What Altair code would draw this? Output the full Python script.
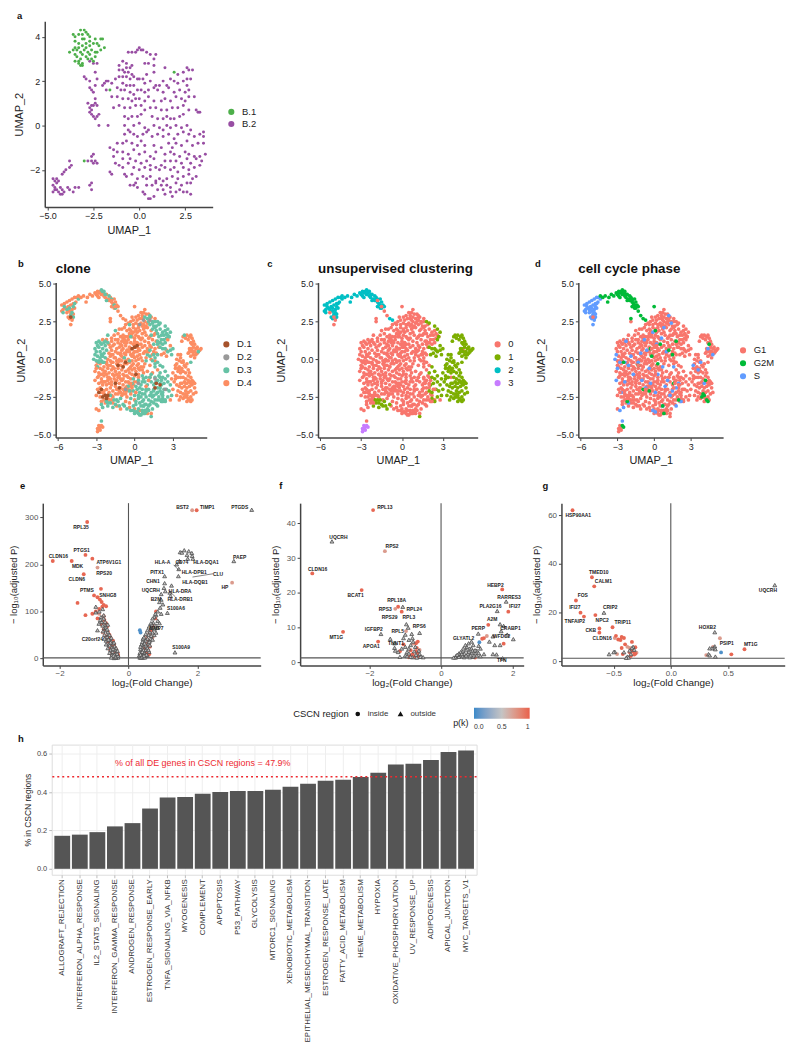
import altair as alt
import pandas as pd

# ---------- panel a (tenths of a UMAP unit, flat x,y pairs)
a_b1 = [-36,41,-35,40,-33,41,-32,43,-30,43,-29,42,-31,41,-30,39,-28,41,-27,40,-35,38,-33,37,-31,39,-29,37,-27,38,-25,37,-24,39,-21,39,-20,39,-35,35,-33,35,-31,36,-29,35,-27,36,-23,37,-22,36,-19,35,-21,34,-36,34,-34,34,-32,33,-30,34,-28,33,-26,34,-24,33,-38,33,-35,32,-31,32,-27,32,-23,33,-34,31,-32,30,-29,31,-26,30,-24,31,-35,29,-33,29,-31,28,-28,30,-25,29,-33,28,-32,27,-31,27,-16,16,19,24,-30,-16]
a_b2 = [-27,29,-25,28,-23,28,-30,22,-29,21,-27,20,-24,24,-23,21,-24,18,-27,17,-26,16,-25,15,-24,12,-28,10,-26,9,-27,8,-26,7,-25,9,-24,10,-23,9,-27,6,-26,5,-25,4,-24,3,-23,4,-22,5,-22,0,-18,16,-20,18,-19,19,-18,20,
-6,33,-4,33,-2,33,-1,34,0,35,1,34,2,34,4,33,6,32,9,32,-9,29,-7,28,-4,27,3,28,5,28,8,30,-11,27,-9,25,-7,26,-5,26,8,27,
-11,25,-8,24,-6,24,-4,23,-3,22,-1,21,-5,21,-7,22,-9,22,4,23,8,24,14,26,21,23,24,24,26,26,27,25,29,25,
-17,20,-15,19,-13,21,-11,22,-9,19,-7,18,-5,18,-3,18,0,21,2,21,3,19,6,20,9,18,11,18,13,20,15,18,17,21,19,20,21,19,24,20,26,21,28,21,
-12,17,-10,16,-8,16,-5,15,-3,14,-1,16,1,16,3,15,5,16,8,17,10,16,13,15,16,17,19,15,22,16,26,18,25,15,27,16,
-15,13,-12,13,-9,12,-6,12,-4,11,-2,12,0,12,3,11,5,13,8,11,12,11,14,12,17,11,20,13,23,12,25,11,27,13,30,13,
-14,8,-11,9,-8,8,-5,8,-2,9,1,9,3,7,6,8,9,8,12,7,15,7,18,8,21,8,24,9,27,7,31,7,32,6,33,6,
-8,4,-6,3,-4,4,-1,4,1,5,7,4,10,3,13,3,15,4,17,3,19,3,22,4,24,5,
-17,0,-8,0,-6,-2,-3,0,0,1,3,-1,5,-2,8,0,11,-1,13,-2,15,0,17,-1,20,0,23,-1,26,0,28,-2,
-8,-4,-5,-3,-3,-4,-1,-5,2,-4,4,-3,7,-5,10,-4,13,-5,16,-4,19,-6,21,-4,24,-3,27,-4,30,-5,33,-4,35,-3,35,-5,
-12,-8,-9,-8,-7,-7,-4,-8,-1,-9,1,-7,3,-9,8,-9,12,-10,16,-8,18,-10,20,-8,23,-9,26,-7,29,-9,32,-8,35,-8,
-16,-10,-14,-11,-12,-12,-9,-12,-6,-13,-3,-11,0,-13,3,-12,6,-14,9,-12,14,-13,17,-12,19,-13,22,-14,25,-12,27,-13,30,-14,33,-14,36,-13,
-14,-14,-9,-15,-5,-15,-2,-16,1,-17,4,-16,6,-18,8,-15,12,-18,14,-16,17,-16,20,-16,23,-17,26,-15,28,-17,31,-15,34,-16,
-13,-17,-11,-18,-9,-19,-6,-17,-3,-19,0,-20,3,-19,6,-20,9,-19,11,-20,14,-19,17,-20,19,-19,21,-21,24,-19,27,-20,30,-19,33,-18,
-16,-21,-15,-22,-8,-22,-7,-23,-4,-22,-1,-24,2,-23,4,-24,6,-23,9,-25,11,-24,13,-25,15,-24,18,-23,21,-24,24,-23,27,-22,29,-24,31,-23,
-5,-27,-3,-27,-2,-26,-1,-28,4,-27,7,-27,9,-26,12,-27,15,-27,17,-28,20,-26,23,-27,26,-26,28,-26,
2,-30,3,-31,5,-33,6,-33,8,-32,10,-29,13,-29,14,-31,17,-30,18,-32,20,-30,22,-29,24,-30,26,-30,28,-31,
-47,-24,-46,-25,-45,-24,-47,-27,-46,-28,-45,-26,-44,-25,-46,-29,-45,-29,-47,-30,-43,-28,-44,-30,-42,-29,-43,-31,-42,-31,-41,-30,-39,-28,-38,-29,-36,-30,-35,-28,-42,-22,-41,-21,-40,-20,-38,-19,-37,-18,-38,-16,-33,-28,-27,-27,-26,-26,-26,-29,-28,-16,-26,-16,-25,-17,-24,-16,-23,-17,-26,-14,-25,-13]

# ---------- panels b, c, d: the same cells; each list is (clone, cluster, phase, flat x,y pairs)
cells_d4_0_g1 = [3,29,5,31,7,31,9,30,11,30,13,28,-1,26,1,28,2,26,4,27,6,27,8,25,-5,24,-3,25,-1,23,1,24,3,23,5,24,7,23,9,22,
-19,25,-10,20,-8,21,-6,19,-4,20,-1,21,1,20,4,19,7,20,10,21,13,19,-16,16,-13,17,-11,15,-9,16,-7,15,-4,17,-2,15,1,16,3,15,6,17,9,16,12,15,16,17,
-25,13,-22,13,-18,12,-15,13,-13,11,-10,12,-8,11,-5,13,-3,11,0,12,2,11,5,13,8,12,11,11,14,13,17,12,20,11,
-19,8,-17,9,-14,7,-12,8,-9,7,-7,9,-4,8,-2,7,1,8,3,7,6,8,8,9,10,7,13,8,16,7,19,8,
-20,4,-18,3,-15,5,-13,4,-11,3,-8,4,-6,5,-3,3,-1,4,2,5,4,3,7,4,11,5,14,3,17,4,
-21,0,-19,-1,-16,1,-14,-1,-12,0,-9,1,-7,-1,-5,0,-2,-1,0,1,3,0,6,-1,9,1,13,0,16,-1,
-30,-4,-27,-3,-24,-5,-22,-3,-19,-4,-17,-5,-14,-3,-11,-4,-9,-5,-6,-3,-3,-5,-1,-3,2,-4,5,-5,8,-3,12,-4,
-31,-8,-28,-9,-25,-7,-23,-8,-20,-9,-18,-7,-15,-8,-12,-9,-10,-7,-7,-8,-4,-9,-2,-7,1,-8,4,-7,7,-9,10,-8,14,-9,18,-7,
-29,-12,-26,-13,-24,-11,-21,-12,-19,-13,-16,-11,-13,-12,-11,-13,-8,-11,-5,-12,-3,-13,0,-11,3,-12,7,-13,12,-12,
-28,-16,-25,-17,-23,-15,-20,-16,-18,-17,-15,-15,-12,-16,-9,-17,-7,-15,-4,-16,-1,-17,2,-15,
-29,-20,-27,-19,-24,-21,-22,-20,-19,-19,-17,-21,-14,-20,-11,-19,-8,-21,-5,-20,-2,-19,
-30,-24,-27,-25,-24,-23,-21,-24,-17,-25,-13,-23,-10,-24,-6,-25,-3,-23,
-26,-28,-23,-29,-20,-27,-7,-28,-4,-29,0,-27,-4,-32,0,-33,4,-34,-30,-33,
-22,-2,-17,-2,-10,-1,-4,-2,1,-1,-26,-10,-22,-10,-17,-10,-14,-10,-9,-10,-6,-11,-2,-10,-26,-15,-21,-14,-16,-13,-10,-14,-5,-15,-25,-22,-20,-22,-15,-23,-11,-22,-7,-23,-17,3,-10,6,-5,6,0,5,4,6,-16,10,-11,10,-6,11,-1,10,3,10,-9,14,-5,15,0,14,4,14,-3,19,2,18,6,22,
45,6,36,-12,28,-27,16,27,8,33,10,-36,13,-36,
-29,-2,-27,-6,-24,-9,-21,-6,-18,-2,-16,-6,-13,-6,-11,-1,-8,-3,-5,-7,-2,-4,0,-6,3,-6,6,-7,-28,-11,-25,-15,-22,-17,-20,-12,-18,-15,-14,-14,-12,-11,-9,-13,-6,-18,-3,-18,0,-15,-24,-27,-21,-26,-18,-24,-15,-18,-12,-21,-9,-23,-6,-21,-3,-21,-18,6,-15,1,-13,-1,-10,2,-7,3,-4,5,-1,2,2,2,5,1,8,5,-20,10,-18,14,-13,13,-10,9,-7,12,0,10,-12,20,-7,23,-2,17,3,21,8,18,11,14,15,16,-2,28,6,29,10,24,12,9,15,5]
cells_d3_0_g1 = [-30,11,-28,12,-26,10,-28,8,-25,7,-23,9,-21,11,-30,5,-27,5,-24,4,-22,6,-29,2,-27,1,-25,2,-23,1,-30,-1,-26,-1,
8,28,10,27,12,28,14,25,16,25,15,22,17,22,19,23,12,23,14,20,17,19,20,20,22,18,24,19,23,16,19,15,21,13,25,14,27,15,13,16,22,10,24,11,15,10,18,10,
-4,23,-3,15,-15,19,-21,16,10,3,12,2,9,-1,14,-1,16,1,18,-2,18,3,20,-4,16,-3,
-2,-16,1,-18,3,-14,5,-17,8,-15,10,-17,13,-15,15,-17,18,-14,6,-11,9,-12,13,-10,16,-12,19,-11,21,-14,
-1,-21,2,-20,4,-22,6,-20,8,-23,11,-20,13,-22,15,-20,18,-22,20,-19,23,-20,
-3,-26,0,-24,3,-26,5,-25,7,-27,9,-25,11,-27,14,-25,16,-27,19,-25,22,-24,24,-27,
-8,-31,-6,-33,-3,-34,-1,-31,1,-30,3,-33,5,-31,6,-34,8,-30,10,-33,12,-30,14,-33,17,-30,0,-36,3,-36,5,-37,7,-36,9,-35,11,-34,
-22,-27,-19,-24,-14,-27,-26,-30,6,-15,11,-14,4,-19,9,-20,-1,-13,-5,-18,-11,-26,-8,1,-4,-1,-29,-5,
-31,7,-29,9,-27,11,-24,11,-26,3,-28,-1,11,25,16,21,18,17,21,16,25,17,20,11,23,13,26,16,7,-13,12,-12,17,-15,20,-12,3,-24,6,-23,9,-21,12,-24,15,-24,17,-23,21,-23,1,-28,4,-29,6,-28,9,-30,11,-31,13,-28,15,-29,18,-27,21,-28,2,-35,4,-37,6,-36,8,-34]
cells_d4_0_s = [-30,-6,-31,-14,-27,-22,-24,-15,-21,-4,-19,2,-17,-10,-13,-2,-11,4,-10,-14,-8,13,-7,-19,-6,6,-4,-6,-3,-16,-1,18,1,-22,2,10,3,-10,6,14,7,-5,8,21,9,-18,10,5,11,-14,-53,31,-50,23,-49,26,-28,-34]
cells_d3_0_s = [-31,3,-28,-2,-24,-2,-23,12,12,29,14,24,13,-24,15,-21,18,-19,16,-5,20,-16,22,-28,18,-31,7,-31,1,-35,-1,-34,-26,-41,-32,0,-25,-32,-21,-29]
cells_d3_0_g2m = [-25,-2,-22,-28,-4,-21,12,6,15,3,18,12,16,-16,20,-27,8,-36,7,-31]
cells_d4_0_g2m = [-13,-4,-9,-20,-3,7,-2,2,3,-3,5,10,1,19,0,35,-18,39,-15,35,-13,32,-11,29,-19,27]
cells_d4_1_g1 = [38,15,41,16,43,15,45,14,42,13,44,11,46,12,37,12,43,7,46,8,48,7,50,6,47,5,49,4,45,5,42,4,44,2,47,1,26,13,28,9,25,6,23,4,25,2,21,3,
34,3,36,1,33,0,35,-1,37,-2,33,-3,35,-5,37,-6,39,-4,36,-9,38,-8,40,-9,42,-7,34,-8,32,-6,30,-9,32,-11,34,-12,38,-12,40,-13,42,-11,44,-12,37,-16,39,-15,41,-19,43,-15,45,-14,
31,-15,33,-17,35,-18,37,-19,39,-18,43,-18,45,-17,47,-19,34,-21,36,-22,38,-23,40,-21,42,-22,44,-21,46,-23,36,-25,38,-26,40,-25,42,-26,44,-25,45,-27,-20,-27,-17,-29,
40,-5,41,-3,43,-9,46,-15,44,-16,40,-16,36,-16,32,-13,29,-13,30,-20,33,-24,35,-27,41,-28,48,-22,47,-16,34,-6,36,3,38,-1,40,14,44,16,47,10,49,8,51,6,52,7,46,3,43,5,-18,-27,-14,-31,-11,-33]
cells_d3_1_g1 = [22,-5,24,-8,20,-9,22,-12,24,-13,26,-11,21,-17,23,-16,26,-15,28,-17,20,-21,22,-22,25,-20,27,-21,22,-26,24,-28,26,-25,29,-24,20,8,22,7,24,7,26,5,28,6,30,7,29,3,
-21,-31,-19,-29,-17,-32,-15,-30,-13,-28,-12,-31,-9,-30,-16,-27,18,25,20,24,24,22,26,20,28,18,27,15,39,16,50,5,44,-2,13,-38]
cells_d4_1_s = [32,-4,38,-2,44,7,48,3,41,-16,36,-7]
cells_d4_1_g2m = [41,-24,43,-27,39,-25,40,-23,42,-14,45,10,44,-28]
cells_d4_2_s = [-57,36,-55,37,-53,38,-51,39,-49,40,-47,41,-45,41,-56,33,-54,34,-52,35,-50,36,-48,37,-46,38,-51,32,-49,33,-47,34,-57,32,-52,28,-50,30,-48,30,-51,27,-49,27]
cells_d3_2_s = [-56,31,-55,35,-53,33,-51,34,-48,35,-47,37,-50,29,-48,28,-49,31,-44,40]
cells_d4_2_g2m = [-44,42,-42,41,-40,42,-37,41,-35,43,-33,42,-31,44,-30,43,-29,45,-28,44,-27,45,-26,43,-29,42,-28,41,-25,44,-24,42,-23,41,-22,43,-21,40,-20,39,-19,41,-18,38,-17,37,-16,40,-15,38,-14,36,-16,34,-18,35,-13,35,-38,38,-9,27,-7,26]
cells_d3_2_g2m = [-26,46,-25,45,-24,45,-23,43,-22,39,-20,42,-18,40,-16,36,-15,34]
cells_d4_3_g1 = [-28,-46,-27,-47,-29,-48,-28,-44,-27,-45,-29,-46]
cells_d4_3_g2m = [-26,-44,-25,-45]
cells_d1_0_g1 = [-28,-22,-25,-25,-23,-24,-21,-24,-22,-26,-26,-20,-15,-16,-12,-19,-13,-4,-7,-2,-9,-5,-2,7,0,8,2,9,17,-16,20,-17,16,-19,1,-10,-50,28]
cells_d2_0_g1 = [4,23,7,26,12,26,-7,-20,16,-13,24,-20,3,-16]

cell_groups = [
    ("D.4", "0", "G1", cells_d4_0_g1), ("D.3", "0", "G1", cells_d3_0_g1),
    ("D.4", "1", "G1", cells_d4_1_g1), ("D.3", "1", "G1", cells_d3_1_g1),
    ("D.4", "2", "S", cells_d4_2_s), ("D.3", "2", "S", cells_d3_2_s),
    ("D.4", "2", "G2M", cells_d4_2_g2m), ("D.3", "2", "G2M", cells_d3_2_g2m),
    ("D.4", "3", "G1", cells_d4_3_g1), ("D.4", "3", "G2M", cells_d4_3_g2m),
    ("D.4", "0", "S", cells_d4_0_s), ("D.3", "0", "S", cells_d3_0_s),
    ("D.3", "0", "G2M", cells_d3_0_g2m), ("D.4", "0", "G2M", cells_d4_0_g2m),
    ("D.4", "1", "S", cells_d4_1_s), ("D.4", "1", "G2M", cells_d4_1_g2m),
    ("D.1", "0", "G1", cells_d1_0_g1), ("D.2", "0", "G1", cells_d2_0_g1),
]

# ---------- volcano panels: flat x,y pairs grouped by the p(k) they show
e_red = [-1.2,290,-1.25,220,-2.2,207,-1.65,207,-1.05,212,-1.3,179,-1.0,134,-0.8,148,-1.48,118,1.98,315,-0.9,130,-0.83,125,-0.78,120,-0.76,110,-0.72,114,-0.65,111,-0.85,105,-0.95,100,-1.05,95,-1.25,92,-0.9,85,-0.72,90,-0.7,82,-0.65,75,-0.78,72,-0.62,68,-0.72,62,-0.6,57,-0.55,50,-0.68,48,-0.52,44,-0.45,38,-0.6,36,-0.42,30,-0.5,26,-0.38,22,-0.55,20,-0.42,15,-0.33,13,-0.5,10,-0.38,6,-0.45,3,-0.3,8,0.55,40,0.5,35,0.58,30,0.48,28,0.62,25,0.45,20,0.55,16,0.52,12,0.6,9,0.42,6,0.8,100,0.78,85,0.7,70,0.65,60]
e_pink = [-0.9,193,1.85,315,3.01,161,-0.85,95,-0.7,78,-0.75,55,-0.6,42,-0.5,32,-0.42,25,-0.35,18,0.6,52,0.5,45,0.45,30,0.7,45]
e_blue = [0.33,60,0.35,55,-0.3,5]
e_tri = [3.58,316,3.06,207,1.35,13,1.13,97,1.5,226,1.55,225,1.62,230,1.7,220,1.75,228,1.84,224,1.85,218,1.87,212,1.72,212,1.48,207,1.4,200,1.46,190,1.45,175,1.05,175,1.05,160,1.03,150,1.25,155,1.07,143,1.2,140,1.22,133,0.95,137,0.95,125,0.9,120,1.0,115,0.92,108,0.85,100,0.95,95,0.8,92,0.75,88,0.85,80,0.72,76,0.8,70,0.68,72,0.75,62,0.65,65,0.7,55,0.62,56,0.58,50,0.66,48,0.55,42,0.62,38,0.5,38,0.58,32,0.45,35,0.52,25,0.42,28,0.5,18,0.4,22,0.47,12,0.38,15,0.36,10,0.42,8,0.34,6,0.36,3,0.33,2,0.42,2,0.5,5,0.47,2,0.55,6,0.6,14,
0.35,20,0.33,12,0.31,6,0.38,30,0.35,25,0.4,35,0.42,42,0.45,45,0.5,52,0.55,60,0.6,68,0.65,75,0.7,85,0.78,95,0.45,12,0.5,28,0.55,22,0.6,35,0.65,42,0.7,40,0.75,50,0.8,55,0.85,65,0.9,75,0.43,18,0.47,32,0.4,14,0.52,8,0.58,18,0.35,8,0.37,1.5,0.4,4,0.45,6,0.62,28,
-0.85,100,-0.95,98,-0.75,105,-0.8,88,-0.72,85,-0.68,70,-0.74,58,-0.65,60,-0.58,52,-0.62,46,-0.55,40,-0.5,36,-0.58,30,-0.45,32,-0.48,24,-0.4,26,-0.52,18,-0.38,18,-0.46,14,-0.35,12,-0.4,8,-0.33,4,-0.31,2,-0.42,1,-0.36,1.5,-0.55,28,-0.65,38,-0.7,65,-0.6,72,-0.78,78,-0.86,74,-0.9,60,-0.95,110,
-0.3,6,-0.33,10,-0.36,22,-0.4,18,-0.42,34,-0.45,20,-0.5,44,-0.52,34,-0.55,50,-0.6,56,-0.65,66,-0.7,50,-0.75,70,-0.82,82,-0.48,8,-0.55,12,-0.6,22,-0.65,30,-0.7,42,-0.32,16,-0.38,3,-0.44,6,-0.5,2,-0.58,40,-0.62,62,-0.68,78,-0.72,92]
e_names = ["BST2","TIMP1","PTGDS","RPL35","PTGS1","CLDN16","MDK","ATP6V1G1","RPS20","CLDN6","PTMS","SNHG8","C20orf24","HLA-A","CD74","HLA-DQA1","PAEP","HLA-DPB1","CLU","PITX1","CHN1","HLA-DQB1","HP","UQCRH","HLA-DRA","HLA-DRB1","B2M","S100A6","MMP7","S100A9"]
e_name_x = [1.57,2.29,3.23,-1.38,-1.36,-2.04,-1.48,-0.57,-0.71,-1.5,-1.21,-0.6,-1.05,0.99,1.55,2.25,3.23,1.91,2.6,0.83,0.71,1.93,2.8,0.65,1.5,1.5,0.8,1.38,0.81,1.53]
e_name_y = [322,322,322,280,231,218,196,204,182,168,146,134,41,204,204,204,216,184,180,184,164,163,151,146,144,127,126,108,65,24]
e_links = [1.31,199,1.47,187,1.86,173,2.46,180,1.16,145,1.36,131]

f_red = [-1.9,43.8,-3.6,25.6,-2.22,20.8,-2.74,8.8,-1.76,6,-1.1,14.6,-1.2,16,1.71,21,1.88,14.6,1.32,10.8,1.75,5.4,1.2,7,1.15,6.8,-1.05,5.2,-1.15,3.2,-0.9,1.5,-0.85,2,-0.8,2.4,-0.75,1.8,-0.7,5.5,-0.65,6,-0.68,4.2,-0.7,3.2,-0.65,2.6,-0.72,1.6,-0.62,1.7,-0.85,3.5,0.95,1.4]
f_pink = [-1.57,32,-1.28,15.4,1.28,7.6,-0.98,9,-0.78,5.4,-0.6,3.6]
f_blue = [1.07,5.8]
f_tri = [-3.05,34.8,-1.07,16,-0.97,11,-0.92,10,-1.68,8.2,-0.6,8.5,-1.0,8,-0.82,8.2,-0.9,6.5,-0.8,7,-1.05,7,-1.42,6.8,-1.3,5.5,-1.3,4.2,-1.28,3.4,-1.0,4.5,-0.85,5,-0.72,4.5,-0.95,3,-0.75,3.2,-0.6,2.4,-0.55,1.7,-0.5,1.5,-1.0,2,-1.15,1.6,-0.8,1.5,-0.68,1.4,-1.2,3,-1.1,4,-0.95,1.8,-0.9,2.6,-0.85,1.6,-0.7,2.2,-0.62,3.4,-0.58,1.6,-0.78,6,-0.9,4,
1.82,17.5,1.57,14.8,1.04,8.3,1.68,9,1.65,11,1.75,10.5,2.02,6.7,1.85,8,1.45,7.5,1.35,6,1.5,5,1.65,5,1.55,2.3,1.45,2.4,1.72,1.2,1.05,4.8,1.1,4,1.0,3.4,0.9,5,0.8,4,0.7,3.5,0.75,2.5,0.85,2.8,0.95,2.6,0.6,3,0.55,2,0.5,2.6,0.42,1.9,0.4,1.4,0.35,1.4,0.65,1.5,0.8,1.5,0.9,1.6,1.1,1.8,1.2,2.4,
0.5,1.6,0.55,3,0.6,1.8,0.65,2.5,0.7,2,0.72,4.5,0.78,3,0.82,2,0.85,4,0.88,3.4,0.92,2,0.95,3.5,1.0,2,1.05,2.7,0.62,4,0.68,5,0.77,5.5,0.85,6,0.45,2.2,0.58,2.4]
f_names = ["RPL13","UQCRH","RPS2","CLDN16","BCAT1","RPL18A","RPS3","RPL24","RPS29","RPL3","RPS6","RPL5","IGFBP2","MT1G","APOA1","TNNT1","HEBP2","RARRES3","PLA2G16","IFI27","A2M","CRABP1","PERP","WFDC2","GLYATL2","TFN"]
f_name_x = [-1.57,-2.87,-1.37,-3.45,-2.39,-1.24,-1.56,-0.75,-1.44,-0.9,-0.61,-1.21,-1.88,-2.93,-1.95,-1.26,1.52,1.9,1.38,2.06,1.43,1.94,1.04,1.69,0.63,1.7]
f_name_y = [44.6,36.2,33.4,27,19.3,17.9,15.4,15.4,13,13,10.6,9.1,9.6,7.2,4.7,5.6,22.3,18.9,16.1,16.1,12.6,9.8,9.9,7.5,7.1,0.8]

g_red = [-0.86,62,-0.69,34.5,-0.67,30.8,-0.83,25,-0.79,20,-0.76,18.4,-0.66,19,-0.51,14,-0.625,13.5,-0.625,11.8,0.645,5,0.53,2.9,-0.48,10.5,-0.46,9,-0.43,10,-0.41,9.6,-0.44,8.8,-0.34,8,-0.4,7,-0.43,5.5,-0.34,5,-0.31,5.8,-0.33,4,-0.31,3.2,-0.32,2.8,-0.35,2.2,-0.36,3.8,-0.42,3]
g_pink = [-0.49,9.6,0.43,9.5,-0.38,6,-0.36,5.5,-0.47,3,-0.3,3.6,0.31,2.6,0.37,6]
g_blue = [0.44,3.7]
g_tri = [-0.585,20,0.91,31.3,0.385,12,-0.54,3,-0.49,4,-0.5,3.8,-0.41,3.8,-0.36,4.5,-0.33,6,-0.34,5.5,-0.32,4.8,-0.38,2,-0.37,1.6,-0.39,1.5,-0.35,3,0.385,6.2,0.38,5.5,0.36,5.4,0.34,5.4,0.39,5,0.33,3,0.34,2.5,0.39,2]
g_names = ["HSP90AA1","TMED10","CALM1","FOS","IFI27","TNFAIP2","CRIP2","NPC2","TRIP11","CKB","CLDN16","UQCRH","HOXB2","PSIP1","MT1G"]
g_name_x = [-0.81,-0.63,-0.59,-0.77,-0.84,-0.84,-0.53,-0.6,-0.42,-0.7,-0.6,0.85,0.32,0.49,0.7]
g_name_y = [60,36.6,32.8,27.1,22.2,16.5,22.2,17,16.3,13,9.5,29.3,14.2,7.5,7.2]

# ---------- panel h
pathways = ["ALLOGRAFT_REJECTION","INTERFERON_ALPHA_RESPONSE","IL2_STAT5_SIGNALING","INTERFERON_GAMMA_RESPONSE","ANDROGEN_RESPONSE","ESTROGEN_RESPONSE_EARLY","TNFA_SIGNALING_VIA_NFKB","MYOGENESIS","COMPLEMENT","APOPTOSIS","P53_PATHWAY","GLYCOLYSIS","MTORC1_SIGNALING","XENOBIOTIC_METABOLISM","EPITHELIAL_MESENCHYMAL_TRANSITION","ESTROGEN_RESPONSE_LATE","FATTY_ACID_METABOLISM","HEME_METABOLISM","HYPOXIA","OXIDATIVE_PHOSPHORYLATION","UV_RESPONSE_UP","ADIPOGENESIS","APICAL_JUNCTION","MYC_TARGETS_V1"]
pct_in = [0.172,0.178,0.191,0.221,0.238,0.314,0.371,0.374,0.391,0.40,0.405,0.405,0.412,0.428,0.443,0.459,0.464,0.478,0.50,0.543,0.547,0.567,0.609,0.616]

FONT = "Liberation Sans"
INK = "#444444"


def pairs(flat, scale=1.0):
    return [(flat[i] * scale, flat[i + 1] * scale) for i in range(0, len(flat), 2)]


def letter(t, px, py, size=9.5):
    return alt.Chart(pd.DataFrame({"t": [t]})).mark_text(
        font=FONT, fontWeight="bold", fontSize=size, color="#111", align="left", baseline="middle"
    ).encode(text="t:N", x=alt.value(px), y=alt.value(py))


def gap(w=1, h=1):
    return alt.Chart(pd.DataFrame({"a": [0]})).mark_circle(opacity=0, size=0).encode(
        x=alt.value(0), y=alt.value(0)).properties(width=w, height=h)


def umap(df, field, dom, rng, xd, yd, xv, yv, yfmt, w, h, tag, tx, ty, lx, ly, title=None, size=14, row=None,
         xtp=3, ytp=7):
    legend = alt.Legend(orient="none", legendX=lx, legendY=ly, title=None, symbolSize=38, symbolType="circle",
                        labelFontSize=9.5, labelColor="#222", labelOffset=6, rowPadding=row or 2, padding=0)
    pts = alt.Chart(df).mark_circle(size=size, opacity=1).encode(
        x=alt.X("x:Q", scale=alt.Scale(domain=xd, nice=False, zero=False),
                axis=alt.Axis(values=xv, format=".1f" if yfmt == ".0f" else "d", title="UMAP_1", titlePadding=xtp)),
        y=alt.Y("y:Q", scale=alt.Scale(domain=yd, nice=False, zero=False),
                axis=alt.Axis(values=yv, format=yfmt, title="UMAP_2", titlePadding=ytp)),
        color=alt.Color(field + ":N", scale=alt.Scale(domain=dom, range=rng), legend=legend),
        order=alt.Order("seq:Q"),
    )
    layers = [pts, letter(tag, tx, ty)]
    if title:
        layers.append(letter(title, 0, -14, size=13.5))
    return alt.layer(*layers).properties(width=w, height=h)


def volcano(red, pink, blue, tri, names, nx, ny, xd, yd, xv, yv, xfmt, w, h, tag, tx, ty, links=None, legends=False):
    rows = []
    for flat, pk, reg in [(pink, 0.72, "inside"), (blue, 0.05, "inside"), (red, 0.97, "inside"), (tri, 0.5, "outside")]:
        rows += [{"fc": x, "lp": y, "pk": pk, "region": reg} for x, y in pairs(flat)]
    df = pd.DataFrame(rows)
    df["seq"] = range(len(df))
    x = alt.X("fc:Q", scale=alt.Scale(domain=xd, nice=False, zero=False),
              axis=alt.Axis(values=xv, format=xfmt, title="log₂(Fold Change)", labelColor="#555", labelFontSize=8,
                            labelPadding=1, titleFontSize=10, titlePadding=0))
    y = alt.Y("lp:Q", scale=alt.Scale(domain=yd, nice=False, zero=False),
              axis=alt.Axis(values=yv, format="d", title="− log₁₀(adjusted P)", labelColor="#555", labelFontSize=8,
                            titleFontSize=9.5, titlePadding=6))
    shape_leg = None
    color_leg = None
    if legends:
        shape_leg = alt.Legend(orient="none", legendX=-7, legendY=208, direction="horizontal", title="CSCN region",
                               titleOrient="left", titleFontSize=9.5, titleFontWeight="normal", titleColor="#222",
                               labelFontSize=8, labelColor="#333", symbolSize=10, symbolFillColor="#111",
                               symbolStrokeColor="#111", columnPadding=7, labelOffset=6, padding=0)
        color_leg = alt.Legend(orient="none", legendX=154, legendY=206, direction="horizontal", title="p(k)",
                               titleOrient="left", titleAnchor="end", titleBaseline="top", titleFontSize=9,
                               titleFontWeight="normal", titleColor="#222", labelFontSize=7, labelColor="#333",
                               gradientLength=56, gradientThickness=11, labelOffset=4, values=[0, 0.5, 1],
                               labelExpr="datum.value == 1 ? '1' : format(datum.value, '.1f')", padding=0)
    pts = alt.Chart(df).mark_point(filled=True, size=15, opacity=1, strokeWidth=0.8).encode(
        x=x, y=y,
        shape=alt.Shape("region:N", scale=alt.Scale(domain=["inside", "outside"], range=["circle", "triangle-up"]),
                        legend=shape_leg),
        color=alt.Color("pk:Q", scale=alt.Scale(domain=[0, 0.5, 1], range=["#3B8AC9", "#C4C4C4", "#E8604C"]),
                        legend=color_leg),
        stroke=alt.condition("datum.region == 'outside'", alt.value("#4d4d4d"), alt.value("transparent")),
        order=alt.Order("seq:Q"),
    )
    vline = alt.Chart(pd.DataFrame({"v": [0]})).mark_rule(color="#555", strokeWidth=1.1).encode(x="v:Q")
    hline = alt.Chart(pd.DataFrame({"v": [1.3]})).mark_rule(color="#555", strokeWidth=1.1).encode(y="v:Q")
    lbl = alt.Chart(pd.DataFrame({"fc": nx, "lp": ny, "gene": names})).mark_text(
        font=FONT, fontWeight="bold", fontSize=5, color="#222").encode(x="fc:Q", y="lp:Q", text="gene:N")
    layers = [vline, hline, pts, lbl]
    if links:
        lk = [{"a": links[i], "b": links[i + 1], "c": links[i + 2], "d": links[i + 3]} for i in range(0, len(links), 4)]
        layers.append(alt.Chart(pd.DataFrame(lk)).mark_rule(color="#333", strokeWidth=0.6).encode(
            x="a:Q", y="b:Q", x2="c:Q", y2="d:Q"))
    layers.append(letter(tag, tx, ty))
    return alt.layer(*layers).properties(width=w, height=h)


# ---- data frames
adf = pd.DataFrame([{"x": x, "y": y, "clone": "B.2"} for x, y in pairs(a_b2, 0.1)] +
                   [{"x": x, "y": y, "clone": "B.1"} for x, y in pairs(a_b1, 0.1)])
adf["seq"] = range(len(adf))
rows = []
for clone, cluster, phase, flat in cell_groups:
    rows += [{"x": x, "y": y, "clone": clone, "cluster": cluster, "phase": phase} for x, y in pairs(flat, 0.1)]
cdf = pd.DataFrame(rows)
cdf["seq"] = range(len(cdf))

# ---- panels
pa = umap(adf, "clone", ["B.1", "B.2"], ["#4DAF4A", "#984EA3"], [-5.15, 4.0], [-3.68, 4.7],
          [-5, -2.5, 0, 2.5], [-2, 0, 2, 4], ".0f", 169, 187, "a", -28, -5, 183, 86.5, size=9, row=1.2, xtp=4, ytp=5)
umap_xv, umap_yv = [-6, -3, 0, 3], [-5, -2.5, 0, 2.5, 5]
pb = umap(cdf, "clone", ["D.1", "D.2", "D.3", "D.4"], ["#A6522B", "#999999", "#66C2A5", "#FC8D62"],
          [-6.18, 5.65], [-5.2, 5.09], umap_xv, umap_yv, ".1f", 152, 156, "b", -38, -19, 167, 57.5, title="clone", ytp=7)
pc = umap(cdf, "cluster", ["0", "1", "2", "3"], ["#F8766D", "#7CAE00", "#00BFC4", "#C77CFF"],
          [-6.17, 5.56], [-5.2, 5.09], umap_xv, umap_yv, ".1f", 160.7, 156, "c", -51, -19, 176, 57.5,
          title="unsupervised clustering", ytp=9)
pd_ = umap(cdf, "phase", ["G1", "G2M", "S"], ["#F8766D", "#00BA38", "#619CFF"],
           [-6.2, 5.64], [-5.2, 5.09], umap_xv, umap_yv, ".1f", 145.7, 156, "d", -43.6, -19, 161, 63.5,
           title="cell cycle phase", ytp=9)

pe = volcano(e_red, e_pink, e_blue, e_tri, e_names, e_name_x, e_name_y, [-2.49, 3.84], [-14.8, 330],
             [-2, 0, 2], [0, 100, 200, 300], "d", 219.3, 163.3, "e", -23, -17.5, links=e_links)
pf = volcano(f_red, f_pink, f_blue, f_tri, f_names, f_name_x, f_name_y, [-3.94, 2.31], [-0.86, 45.8],
             [-2, 0, 2], [0, 10, 20, 30, 40], "d", 225, 163.3, "f", -21, -17.5, legends=True)
pg = volcano(g_red, g_pink, g_blue, g_tri, g_names, g_name_x, g_name_y, [-0.957, 0.997], [-1.63, 64.9],
             [-0.5, 0, 0.5], [0, 20, 40, 60], ".1f", 224.7, 163.3, "g", -19, -17.5)

hdf = pd.DataFrame({"pathway": pathways, "pct": pct_in})
hx = alt.X("pathway:N", sort=None, scale=alt.Scale(paddingInner=0.1, paddingOuter=0.15),
           axis=alt.Axis(title=None, labelAngle=270, labelAlign="right", labelBaseline="middle", labelFontSize=8,
                         labelLimit=0, labelColor="#333", domain=False, grid=True, gridColor="#eeeeee", tickSize=3,
                         tickColor="#bbbbbb", labelPadding=1))
hy = alt.Y("pct:Q", scale=alt.Scale(domain=[-0.031, 0.647], nice=False, zero=False),
           axis=alt.Axis(values=[0, 0.2, 0.4, 0.6], format=".1f", title="% in CSCN regions", labelFontSize=7.5,
                         labelColor="#444", titleFontSize=8.5, domain=False, grid=True, gridColor="#eeeeee",
                         tickSize=3, tickColor="#bbbbbb", titlePadding=4))
bars = alt.Chart(hdf).mark_bar(color="#555555").encode(x=hx, y=hy, y2=alt.datum(0))
mean_line = alt.Chart(pd.DataFrame({"v": [0.479]})).mark_rule(color="#EE2A30", strokeDash=[2, 3], strokeWidth=1.5).encode(y="v:Q")
note = alt.Chart(pd.DataFrame({"p": ["COMPLEMENT"], "v": [0.553], "t": ["% of all DE genes in CSCN regions = 47.9%"]})).mark_text(
    color="#EE2A30", font=FONT, fontSize=9).encode(x=alt.X("p:N", sort=None), y="v:Q", text="t:N")
ph = alt.layer(bars, mean_line, note, letter("h", -34, -6)).properties(
    width=427.6, height=131, view=alt.ViewConfig(stroke="#dddddd", strokeWidth=1))


def row(*items):
    return alt.hconcat(*items, spacing=0, bounds="flush").resolve_scale(color="independent", shape="independent")


row1 = row(gap(36), pa)
row2 = row(gap(47), pb, gap(111.3), pc, gap(100.3), pd_)
row3 = row(gap(33.7), pe, gap(38.3), pf, gap(37.7), pg)
row4 = row(gap(42.7), ph)
# nested rows count as zero height in a flush stack, so each gap is the origin-to-origin distance
chart = alt.vconcat(gap(1, 9), row1, gap(1, 262.5), row2, gap(1, 221.2), row3, gap(1, 242.6), row4,
                    spacing=0, bounds="flush").resolve_scale(color="independent", shape="independent").configure(
    font=FONT, padding=0
).configure_view(stroke=None).configure_axis(
    domainColor=INK, domainWidth=1.5, tickColor=INK, tickSize=3, tickWidth=1, labelColor="#222", labelFontSize=9,
    titleFontSize=11, titleFontWeight="normal", titleColor="#222", grid=False, labelFont=FONT, titleFont=FONT
).configure_legend(labelFont=FONT, titleFont=FONT)

chart.save("out.html", embed_options={"renderer": "svg", "actions": False})
